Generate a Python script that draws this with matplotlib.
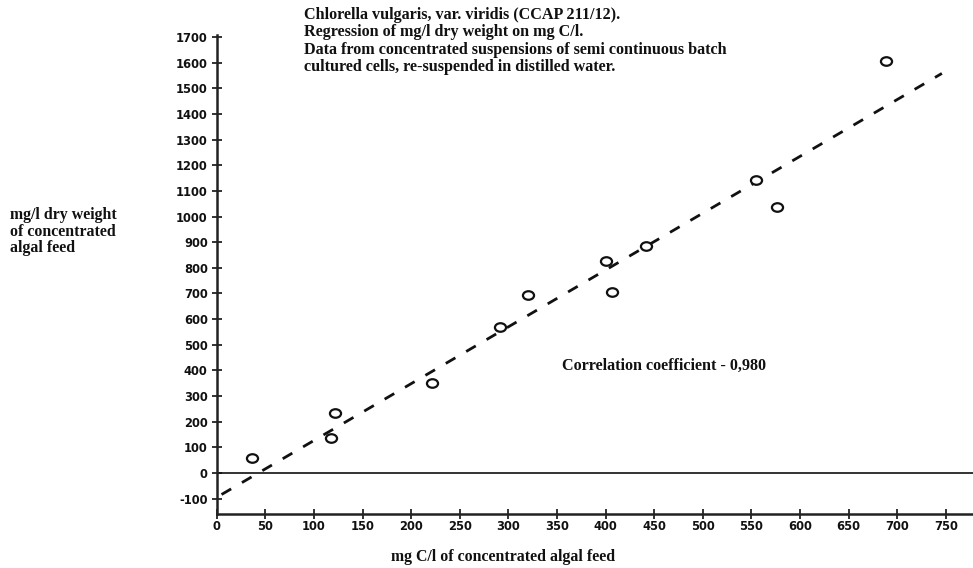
import matplotlib
matplotlib.use("Agg")
import matplotlib.pyplot as plt
import numpy as np
from matplotlib.path import Path
from matplotlib.transforms import Affine2D

# Measured samples: carbon content vs dry weight of the concentrated feed
carbon_mg_per_l = [36, 118, 122, 221, 291, 320, 400, 407, 442, 555, 576, 688]
dry_weight_mg_per_l = [57, 135, 233, 352, 570, 694, 828, 704, 885, 1142, 1036, 1607]

# Fitted regression of dry weight on carbon
reg_slope = 2.216
reg_intercept = -95
reg_x_range = [5, 746]

x_ticks = list(range(0, 751, 50))
y_ticks = list(range(-100, 1701, 100))

title_lines = [
    "Chlorella vulgaris, var. viridis (CCAP 211/12).",
    "Regression of mg/l dry weight on mg C/l.",
    "Data from concentrated suspensions of semi continuous batch",
    "cultured cells, re-suspended in distilled water.",
]
y_label_lines = ["mg/l dry weight", "of concentrated", "algal feed"]
x_label = "mg C/l of concentrated algal feed"
corr_text = "Correlation coefficient - 0,980"

W, H = 973, 568
fig = plt.figure(figsize=(W / 100, H / 100), dpi=100)
fig.patch.set_facecolor("white")

ax = fig.add_axes([216.7 / W, 1 - 514 / H, 1 - 216.7 / W, (514 - 35) / H])
ax.set_xlim(0, 778)
ax.set_ylim(-160, 1708)

serif_bold = dict(family="Liberation Serif", weight="bold", color="#111111")

# slightly flattened open circle marker
oval = Path.unit_circle().transformed(Affine2D().scale(1.3, 1.0))

ax.plot(carbon_mg_per_l, dry_weight_mg_per_l, linestyle="none", marker=oval,
        markersize=8, markerfacecolor="white", markeredgecolor="#111111",
        markeredgewidth=1.6, zorder=3)

xr = np.array(reg_x_range, dtype=float)
ax.plot(xr, reg_intercept + reg_slope * xr, color="#111111", lw=2.0,
        dashes=(4, 4.5), zorder=2)

ax.axhline(0, color="#111111", lw=1.2, zorder=1)

for side in ("top", "right"):
    ax.spines[side].set_visible(False)
for side in ("left", "bottom"):
    ax.spines[side].set_linewidth(1.8)
    ax.spines[side].set_color("#222222")

ax.set_xticks(x_ticks)
ax.set_yticks(y_ticks)
ax.set_yticklabels(["-100" if v == -100 else str(v) for v in y_ticks])
ax.tick_params(direction="inout", length=7, width=1.2, colors="#111111",
               labelsize=8.3)
ax.tick_params(axis="x", pad=1)
ax.tick_params(axis="y", pad=3)
for lbl in ax.get_xticklabels() + ax.get_yticklabels():
    lbl.set_fontfamily("DejaVu Sans")
    lbl.set_fontweight("bold")

fig.text(304 / W, 1 - 7 / H, "\n".join(title_lines), ha="left", va="top",
         fontsize=11.6, linespacing=1.12, **serif_bold)
fig.text(10 / W, 1 - 207 / H, "\n".join(y_label_lines), ha="left", va="top",
         fontsize=11.4, linespacing=1.05, **serif_bold)
fig.text(503 / W, 1 - 557 / H, x_label, ha="center", va="center",
         fontsize=11.4, **serif_bold)
fig.text(562 / W, 1 - 366 / H, corr_text, ha="left", va="center",
         fontsize=11.6, **serif_bold)

fig.savefig("out.png", dpi=100, facecolor="white")
